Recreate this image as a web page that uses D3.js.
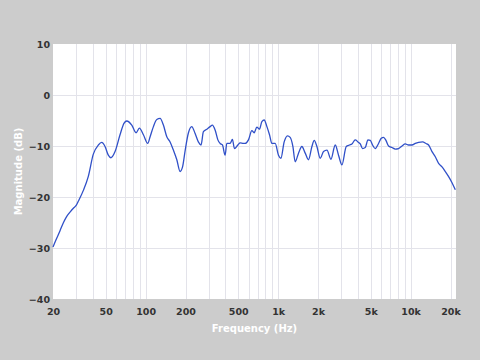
<!DOCTYPE html>
<html><head><meta charset="utf-8">
<script src="https://cdn.jsdelivr.net/npm/d3@7"></script>
<style>
html,body{margin:0;padding:0;background:#cccccc;}
svg{display:block;}
</style></head>
<body>
<svg id="chart" width="480" height="360"></svg>
<script>
const freqs = [20,21,22.6,24,25.4,27,28.5,30,31.1,33.9,36.9,40.3,44.0,46.6,49.4,52.3,54.8,58.8,64.1,68.8,72.1,78.6,84.7,89.7,96.2,103.8,108.1,114.5,121.4,128.6,136.2,144.5,153,162,172,182,190,199,210,223,236,250,262,273,290,307,319,335,351,365,380,398,410,434,452,468,497,517,547,564,597,634,659,691,723,754,785,823,861,897,950,1006,1049,1111,1176,1233,1293,1345,1425,1511,1601,1696,1799,1872,1962,2078,2200,2336,2503,2698,2857,3031,3267,3458,3606,3820,4004,4168,4337,4546,4764,4960,5162,5408,5728,6003,6248,6514,6817,7232,7658,8110,8605,9114,9650,10240,10843,11484,12311,13062,13666,14500,15356,16264,17254,18264,19352,20530,21744];
const magnitude = [-29.8,-28.5,-26.6,-25.0,-23.8,-22.9,-22.2,-21.6,-20.8,-18.7,-16.0,-11.6,-9.8,-9.3,-10.1,-11.8,-12.3,-11.1,-7.8,-5.5,-5.1,-5.9,-7.4,-6.5,-7.8,-9.5,-8.2,-6.2,-4.8,-4.6,-5.9,-8.2,-9.2,-10.8,-12.7,-15.0,-14.1,-10.8,-7.5,-6.2,-7.5,-9.2,-9.8,-7.2,-6.7,-6.2,-5.9,-6.9,-8.8,-9.5,-9.8,-11.8,-9.5,-9.5,-8.7,-10.5,-9.8,-9.4,-9.5,-9.5,-8.8,-7.0,-7.4,-6.3,-6.7,-5.2,-4.9,-6.2,-7.8,-9.5,-9.5,-11.8,-12.4,-9.2,-8.0,-8.3,-10.1,-13.1,-11.4,-10.1,-11.4,-12.7,-10.1,-8.9,-10.1,-12.4,-11.1,-10.8,-12.6,-9.8,-11.8,-13.7,-10.1,-9.8,-9.6,-8.8,-9.2,-9.6,-10.5,-10.3,-8.8,-8.9,-9.8,-10.5,-9.5,-8.5,-8.3,-8.9,-10.0,-10.3,-10.6,-10.5,-10.0,-9.6,-9.8,-9.8,-9.5,-9.3,-9.2,-9.5,-9.8,-11.1,-12.1,-13.4,-14.1,-15.0,-16.0,-17.2,-18.6];
const xTickValues = [20,50,100,200,500,1000,2000,5000,10000,20000];
const xTickLabels = ["20","50","100","200","500","1k","2k","5k","10k","20k"];
const yTickValues = [10,0,-10,-20,-30,-40];
const xTitle = "Frequency (Hz)";
const yTitle = "Magnitude (dB)";

const svg = d3.select("#chart");
const L = 53, R = 456, T = 44, B = 299;
const x = d3.scaleLog().domain([20, 22000]).range([L, R]);
const y = d3.scaleLinear().domain([-40, 10]).range([B, T]);

svg.append("rect").attr("x", L).attr("y", T).attr("width", R - L).attr("height", B - T).attr("fill", "#ffffff");

// vertical grid: every 1..9 multiple
const gridF = [];
[10,100,1000,10000].forEach(d => { for (let m = 1; m <= 9; m++) { const f = d*m; if (f > 20 && f <= 22000) gridF.push(f); } });
svg.append("g").selectAll("line").data(gridF).join("line")
  .attr("x1", d => Math.round(x(d)) + 0.5).attr("x2", d => Math.round(x(d)) + 0.5)
  .attr("y1", T).attr("y2", B)
  .attr("stroke", "#e3e3ea").attr("stroke-width", 1);
svg.append("g").selectAll("line").data(yTickValues.filter(v => v > -40 && v < 10)).join("line")
  .attr("x1", L).attr("x2", R)
  .attr("y1", d => Math.round(y(d)) + 0.5).attr("y2", d => Math.round(y(d)) + 0.5)
  .attr("stroke", "#e3e3ea").attr("stroke-width", 1);

const font = "'DejaVu Sans', Verdana, sans-serif";
// y axis
const yAxis = d3.axisLeft(y).tickValues(yTickValues).tickSize(0).tickPadding(3);
const gy = svg.append("g").attr("transform", `translate(${L},0)`).call(yAxis);
gy.select(".domain").remove();
gy.selectAll("text").attr("font-family", font).attr("font-weight", "bold").attr("font-size", "9.5px").attr("fill", "#333333");

// x axis
const xAxis = d3.axisBottom(x).tickValues(xTickValues).tickFormat((d, i) => xTickLabels[i]).tickSize(0).tickPadding(9);
const gx = svg.append("g").attr("transform", `translate(0,${B})`).call(xAxis);
gx.select(".domain").remove();
gx.selectAll("text").attr("font-family", font).attr("font-weight", "bold").attr("font-size", "9.5px").attr("fill", "#333333");

// titles
svg.append("text").attr("x", (L + R) / 2).attr("y", 331.5).attr("text-anchor", "middle")
  .attr("font-family", font).attr("font-weight", "bold").attr("font-size", "10px").attr("fill", "#ffffff").text(xTitle);
svg.append("text").attr("transform", `translate(21.5,${(T + B) / 2}) rotate(-90)`).attr("text-anchor", "middle")
  .attr("font-family", font).attr("font-weight", "bold").attr("font-size", "10px").attr("fill", "#ffffff").text(yTitle);

// curve
const data = freqs.map((f, i) => [f, magnitude[i]]);
const line = d3.line().x(d => x(d[0])).y(d => y(d[1])).curve(d3.curveMonotoneX);
svg.append("path").datum(data).attr("d", line).attr("fill", "none")
  .attr("stroke", "#3050c8").attr("stroke-width", 1.3).attr("stroke-linejoin", "round");
</script>
</body></html>
